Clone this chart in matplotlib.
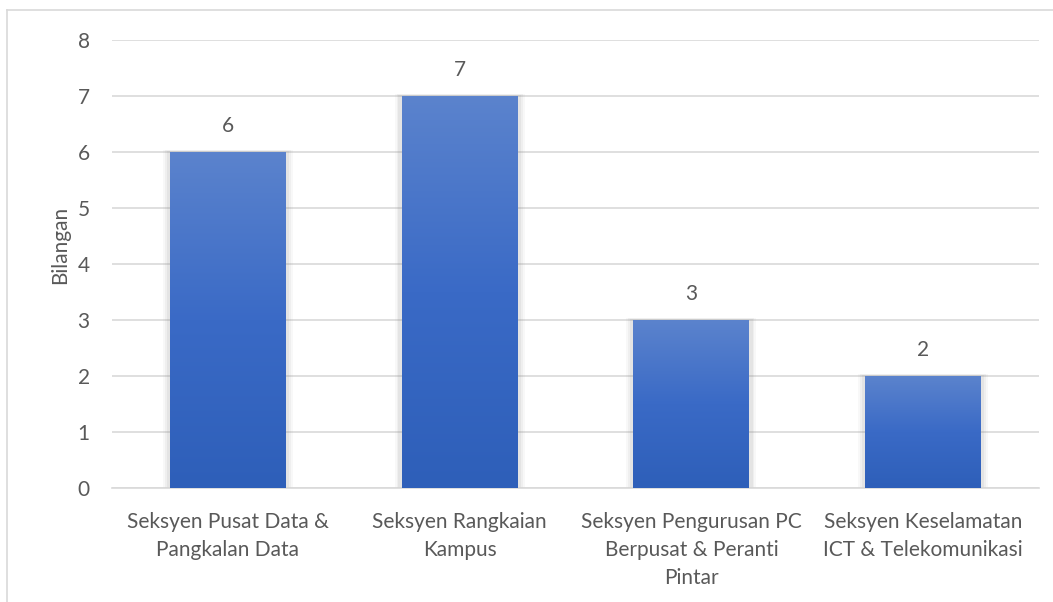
import numpy as np
import matplotlib.pyplot as plt
from matplotlib.patches import Rectangle
from matplotlib.lines import Line2D
from matplotlib.colors import LinearSegmentedColormap

categories = ["Seksyen Pusat Data &\nPangkalan Data",
              "Seksyen Rangkaian\nKampus",
              "Seksyen Pengurusan PC\nBerpusat & Peranti\nPintar",
              "Seksyen Keselamatan\nICT & Telekomunikasi"]
values = [6, 7, 3, 2]
yticks = [0, 1, 2, 3, 4, 5, 6, 7, 8]

plt.rcParams['font.family'] = ['Lato', 'DejaVu Sans']
txt = '#595959'
fs = 15

fig = plt.figure(figsize=(10.53, 6.02), dpi=100)
ax = fig.add_axes([112/1053, 1 - 488/602, 927/1053, 448/602])

# outer chart frame (only left/top visible in the reference)
fig.add_artist(Line2D([7/1053, 7/1053], [0, 1 - 10/602], color='#d9d9d9', lw=1.2, transform=fig.transFigure))
fig.add_artist(Line2D([7/1053, 1], [1 - 10/602, 1 - 10/602], color='#d9d9d9', lw=1.2, transform=fig.transFigure))

grad = np.linspace(0, 1, 256).reshape(-1, 1)
cmap = LinearSegmentedColormap.from_list('bar', ['#2e5fb9', '#3a6ac6', '#5b83cd'])

w = 0.5
for i, v in enumerate(values):
    # soft shadow
    for k, a in enumerate([0.05, 0.07, 0.09]):
        pad = 0.03 - k * 0.008
        ax.add_patch(Rectangle((i - w/2 - pad, 0), w + 2*pad, v + 0.04 - k*0.01,
                               facecolor='#808080', alpha=a, lw=0, zorder=2))
    bar = ax.bar(i, v, width=w, color='none', zorder=3)[0]
    im = ax.imshow(grad, cmap=cmap, aspect='auto', origin='lower',
                   extent=[i - w/2, i + w/2, 0, v], zorder=3)
    im.set_clip_path(bar)
    ax.text(i, v + 0.28, str(v), ha='center', va='bottom', fontsize=fs, color=txt, zorder=4)

ax.set_xlim(-0.5, len(values) - 0.5)
ax.set_ylim(0, 8)
ax.set_yticks(yticks)
ax.set_xticks(range(len(categories)))
ax.set_xticklabels(categories, fontsize=fs, color=txt, linespacing=1.5)
ax.tick_params(axis='y', labelsize=fs, labelcolor=txt, length=0, pad=16)
ax.tick_params(axis='x', length=0, pad=17)
ax.grid(axis='y', color='#d9d9d9', lw=1.2, zorder=0)
ax.set_axisbelow(True)
for s in ['top', 'right', 'left']:
    ax.spines[s].set_visible(False)
ax.spines['bottom'].set_color('#d9d9d9')
ax.spines['bottom'].set_linewidth(1.2)
ax.set_ylabel('Bilangan', fontsize=fs, color=txt, labelpad=5)
ax.yaxis.set_label_coords(-0.045, 0.542)

fig.savefig('out.png', dpi=100, facecolor='white')
